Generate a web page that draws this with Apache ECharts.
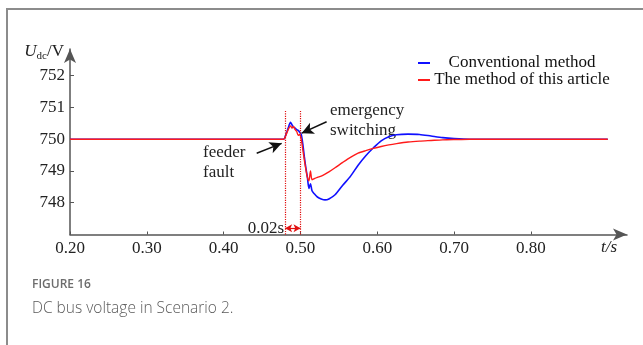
<!DOCTYPE html>
<html>
<head>
<meta charset="utf-8">
<script src="https://cdn.jsdelivr.net/npm/echarts@6/dist/echarts.min.js"></script>
<style>
  html, body { margin: 0; padding: 0; background: #fff; }
  #wrap { position: relative; width: 643px; height: 345px; overflow: hidden; }
  #frame { position: absolute; left: 6px; top: 8px; width: 700px; height: 400px; border: 2px solid #8c8c8c; box-sizing: border-box; }
  #chart { position: absolute; left: 0; top: 0; width: 643px; height: 345px; }
</style>
</head>
<body>
<div id="wrap">
  <div id="frame"></div>
  <div id="chart"></div>
</div>
<script>
// ---- data ----
const seriesNames = ['Conventional method', 'The method of this article'];
const time = [0.20, 0.30, 0.40, 0.478, 0.481, 0.484, 0.487, 0.489, 0.491, 0.493, 0.495, 0.497, 0.499,
  0.501, 0.503, 0.505, 0.507, 0.509, 0.511, 0.513, 0.515, 0.518, 0.522, 0.527, 0.532, 0.537, 0.545,
  0.555, 0.565, 0.575, 0.585, 0.595, 0.605, 0.615, 0.625, 0.64, 0.655, 0.67, 0.685, 0.70, 0.72,
  0.75, 0.80, 0.85, 0.90];
const conventional = [750.0, 750.0, 750.0, 750.0, 750.15, 750.35, 750.53, 750.45, 750.38, 750.35, 750.3, 750.28, 750.22,
  750.15, 749.85, 749.45, 749.1, 748.8, 748.45, 748.6, 748.38, 748.28, 748.18, 748.12, 748.09, 748.12, 748.25,
  748.55, 748.83, 749.18, 749.48, 749.73, 749.95, 750.08, 750.14, 750.16, 750.15, 750.1, 750.05, 750.02, 750.0,
  750.0, 750.0, 750.0, 750.0];
const proposed = [750.0, 750.0, 750.0, 750.0, 750.12, 750.3, 750.42, 750.35, 750.4, 750.3, 750.25, 750.12, 750.15,
  750.0, 749.68, 749.35, 749.05, 748.8, 748.69, 749.0, 748.72, 748.76, 748.8, 748.84, 748.9, 748.97, 749.1,
  749.27, 749.43, 749.56, 749.64, 749.71, 749.77, 749.82, 749.86, 749.91, 749.94, 749.96, 749.98, 749.99, 750.0,
  750.0, 750.0, 750.0, 750.0];
const xTicks = [0.2, 0.3, 0.4, 0.5, 0.6, 0.7, 0.8];
const yTicks = [748, 749, 750, 751, 752];
const faultTime = 0.48;
const switchTime = 0.50;

const serif = 'Liberation Serif';
const pair = (vals) => time.map((t, i) => [t, vals[i]]);

const chart = echarts.init(document.getElementById('chart'), null, { renderer: 'canvas' });
chart.setOption({
  backgroundColor: 'transparent',
  animation: false,
  grid: { left: 70, right: 16, top: 49, bottom: 110.5, containLabel: false },
  legend: {
    left: 418, top: 54.5, orient: 'vertical', itemGap: 0, padding: 0,
    itemWidth: 12, itemHeight: 2, icon: 'rect',
    data: seriesNames,
    formatter: '{a|{name}}',
    textStyle: { rich: { a: { width: 174, align: 'center', fontSize: 17, fontFamily: serif, color: '#111', lineHeight: 16 } } }
  },
  xAxis: {
    type: 'value', min: 0.2, max: 0.925, interval: 0.1,
    name: 't/s', nameLocation: 'end', nameGap: -10,
    nameTextStyle: { fontFamily: serif, fontStyle: 'italic', fontSize: 17, color: '#222', align: 'right', verticalAlign: 'top', padding: [5, 0, 0, 0] },
    axisLine: { lineStyle: { color: '#555', width: 1.5 }, symbol: ['none', 'arrow'], symbolSize: [9, 14] },
    axisTick: { inside: true, length: 3, customValues: xTicks, lineStyle: { color: '#555' } },
    axisLabel: { customValues: xTicks, formatter: v => v.toFixed(2), fontFamily: serif, fontSize: 17, color: '#222', margin: 6 },
    splitLine: { show: false }
  },
  yAxis: {
    type: 'value', min: 747, max: 752.84,
    name: '{u|U}{s|dc}{v|/V}', nameLocation: 'end', nameGap: -3,
    nameTextStyle: { align: 'right', verticalAlign: 'middle', padding: [0, 6, 0, 0],
      rich: {
        u: { fontFamily: serif, fontStyle: 'italic', fontSize: 17, color: '#222' },
        s: { fontFamily: serif, fontSize: 11, color: '#222', padding: [8, 0, 0, 0] },
        v: { fontFamily: serif, fontSize: 17, color: '#222' }
      } },
    axisLine: { show: true, lineStyle: { color: '#555', width: 1.5 }, symbol: ['none', 'arrow'], symbolSize: [9, 14] },
    axisTick: { show: true, inside: true, length: 4, customValues: yTicks, lineStyle: { color: '#555' } },
    axisLabel: { customValues: yTicks, fontFamily: serif, fontSize: 17, color: '#222', margin: 5 },
    splitLine: { show: false }
  },
  series: [
    {
      name: seriesNames[0], type: 'line', data: pair(conventional), showSymbol: false, smooth: 0.25,
      color: '#1010ff', lineStyle: { width: 1.6, color: '#1010ff' }, z: 2
    },
    {
      name: seriesNames[1], type: 'line', data: pair(proposed), showSymbol: false, smooth: 0.25,
      color: '#ff1a1a', lineStyle: { width: 1.4, color: '#ff1a1a' }, z: 3,
      markLine: {
        silent: true, animation: false,
        data: [
          [{ coord: [faultTime, 747], symbol: 'none', lineStyle: { type: 'dotted', color: '#e01010', width: 1.2 } }, { coord: [faultTime, 750.93], symbol: 'none' }],
          [{ coord: [switchTime, 747], symbol: 'none', lineStyle: { type: 'dotted', color: '#e01010', width: 1.2 } }, { coord: [switchTime, 750.93], symbol: 'none' }],
          [{ coord: [faultTime, 747.2], symbol: 'arrow', symbolSize: [6, 7], lineStyle: { type: 'solid', color: '#e01010', width: 1.2 },
             label: { show: true, position: 'start', formatter: '0.02s', fontFamily: serif, fontSize: 17, color: '#222', distance: 1 } },
           { coord: [switchTime, 747.2], symbol: 'arrow', symbolSize: [6, 7] }],
          [{ coord: [0.443, 749.56], symbol: 'none', lineStyle: { type: 'solid', color: '#111', width: 1.5 }, label: { show: false } },
           { coord: [0.4755, 749.87], symbol: 'arrow', symbolSize: [9, 12] }],
          [{ coord: [0.534, 750.55], symbol: 'none', lineStyle: { type: 'solid', color: '#111', width: 1.5 }, label: { show: false } },
           { coord: [0.5015, 750.19], symbol: 'arrow', symbolSize: [9, 12] }]
        ],
        label: { show: false }
      }
    }
  ],
  graphic: [
    { type: 'text', left: 203, top: 143, style: { text: 'feeder\nfault', fontFamily: serif, fontSize: 17, fill: '#222', align: 'center', lineHeight: 20, width: 42 } },
    { type: 'text', left: 330, top: 101, style: { text: 'emergency\nswitching', fontFamily: serif, fontSize: 17, fill: '#222', align: 'center', lineHeight: 20 } },
    { type: 'text', left: 32, top: 279, style: { text: 'FIGURE 16', fontFamily: 'Open Sans', fontWeight: 600, fontSize: 12, fill: '#6d6d6d' } },
    { type: 'text', left: 32, top: 301, style: { text: 'DC bus voltage in Scenario 2.', fontFamily: 'Open Sans', fontWeight: 300, fontSize: 15.5, fill: '#5a5a5a' } }
  ]
});
</script>
</body>
</html>
